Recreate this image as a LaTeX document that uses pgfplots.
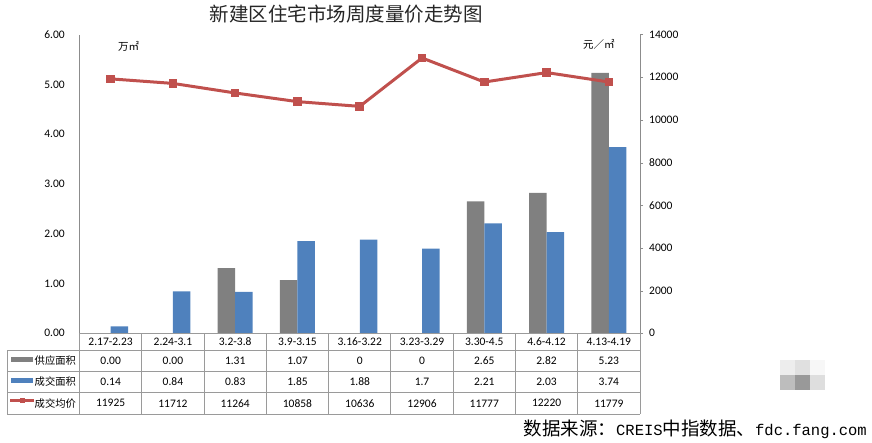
\documentclass[border=0pt]{standalone}
\usepackage{fontspec}
\setmainfont{Carlito}
\newfontfamily\cjk{Noto Sans CJK SC}
\newfontfamily\monof{Liberation Mono}
\usepackage{pgfplots}
\pgfplotsset{compat=1.18}
\definecolor{bgray}{HTML}{808080}
\definecolor{bblue}{HTML}{4F81BD}
\definecolor{lred}{HTML}{C0504D}
\definecolor{axgray}{HTML}{8C8C8C}
\definecolor{tgray}{HTML}{9A9A9A}
\begin{document}
\begin{tikzpicture}[x=1pt,y=1pt]
\path[use as bounding box] (0,0) rectangle (872,442);
% left axis: bars
\begin{axis}[at={(79.5pt,108.7pt)}, anchor=south west, scale only axis,
  width=560.5pt, height=298.7pt,
  xmin=-0.5, xmax=8.5, ymin=0, ymax=6,
  axis x line=none, axis y line*=left,
  axis line style={draw=axgray,-},
  xtick=\empty, ytick={0,1,2,3,4,5,6},
  major tick length=0pt,
  /pgf/number format/assume math mode=true,
  yticklabel={\pgfmathprintnumber[fixed,fixed zerofill,precision=2]{\tick}},
  yticklabel style={anchor=east, inner sep=0pt, xshift=-14.5pt, font=\fontsize{11.5}{13}\selectfont},
  ybar=0pt, bar width=17.5pt, clip=false]
\addplot[fill=bgray, draw=none] coordinates {(0,0) (1,0) (2,1.31) (3,1.07) (4,0) (5,0) (6,2.65) (7,2.82) (8,5.23)};
\addplot[fill=bblue, draw=none] coordinates {(0,0.14) (1,0.84) (2,0.83) (3,1.85) (4,1.88) (5,1.70) (6,2.21) (7,2.03) (8,3.74)};
\end{axis}
% right axis: price line
\begin{axis}[at={(79.5pt,108.7pt)}, anchor=south west, scale only axis,
  width=560.5pt, height=298.7pt,
  xmin=-0.5, xmax=8.5, ymin=0, ymax=14000,
  axis x line=none, axis y line*=right,
  axis line style={draw=axgray,-},
  xtick=\empty, ytick={0,2000,...,14000},
  scaled y ticks=false,
  tick align=outside, major tick length=3pt,
  ytick style={draw=axgray},
  /pgf/number format/assume math mode=true,
  /pgf/number format/1000 sep={},
  yticklabel style={anchor=west, inner sep=0pt, xshift=6pt, font=\fontsize{11.5}{13}\selectfont},
  clip=false]
\addplot[color=lred, line width=3pt, mark=square*, mark size=3.8pt, mark options={solid, line width=0pt}] coordinates {(0,11925) (1,11712) (2,11264) (3,10858) (4,10636) (5,12906) (6,11777) (7,12220) (8,11779)};
\end{axis}
% title and units
\node[font=\cjk\fontsize{19.5}{22}\selectfont, text=black!85] at (346,428) {新建区住宅市场周度量价走势图};
\node[anchor=west, font=\cjk\fontsize{10.5}{12}\selectfont, inner sep=0pt] at (118,396) {万㎡};
\node[anchor=west, font=\cjk\fontsize{10.5}{12}\selectfont, inner sep=0pt] at (583,398) {元／㎡};
% data table grid
\foreach \k in {0,...,9} {\draw[tgray, line width=0.8pt] ({79.5+62.2778*\k},108.7) -- ({79.5+62.2778*\k},28);}
\draw[tgray, line width=0.8pt] (79.5,108.7) -- (640,108.7);
\foreach \yy in {91.3,70.3,49.3,28} {\draw[tgray, line width=0.8pt] (7.3,\yy) -- (640,\yy);}
\draw[tgray, line width=0.8pt] (7.3,91.3) -- (7.3,28);
% table text
\begin{scope}[font=\fontsize{11.5}{13}\selectfont]
\foreach \lab [count=\i from 0] in {2.17-2.23,2.24-3.1,3.2-3.8,3.9-3.15,3.16-3.22,3.23-3.29,3.30-4.5,4.6-4.12,4.13-4.19}
  {\node at ({79.5+62.2778*(\i+0.5)},100) {\lab};}
\foreach \v [count=\i from 0] in {0.00,0.00,1.31,1.07,0,0,2.65,2.82,5.23}
  {\node at ({79.5+62.2778*(\i+0.5)},81) {\v};}
\foreach \v [count=\i from 0] in {0.14,0.84,0.83,1.85,1.88,1.7,2.21,2.03,3.74}
  {\node at ({79.5+62.2778*(\i+0.5)},60) {\v};}
\foreach \v [count=\i from 0] in {11925,11712,11264,10858,10636,12906,11777,12220,11779}
  {\node at ({79.5+62.2778*(\i+0.5)},38.7) {\v};}
\end{scope}
% legend in table
\fill[bgray] (11,79.7) rectangle (33,84.7);
\fill[bblue] (11,59.3) rectangle (33,64.3);
\draw[lred, line width=2.5pt] (10,41.3) -- (34,41.3);
\fill[lred] (19.5,38.8) rectangle (24.5,43.8);
\begin{scope}[font=\cjk\fontsize{10.3}{12}\selectfont]
\node[anchor=west, inner sep=0pt] at (34.5,81) {供应面积};
\node[anchor=west, inner sep=0pt] at (34.5,60) {成交面积};
\node[anchor=west, inner sep=0pt] at (34.5,38.7) {成交均价};
\end{scope}
% blurred watermark mosaic
\fill[black!7] (780,67) rectangle (795,82);
\fill[black!12] (795,67) rectangle (810,82);
\fill[black!3] (810,67) rectangle (825,82);
\fill[black!26] (780,52) rectangle (795,67);
\fill[black!40] (795,52) rectangle (810,67);
\fill[black!13] (810,52) rectangle (825,67);
% source
\node[anchor=east, inner sep=0pt] at (867,13) {\cjk\fontsize{18.5}{20}\selectfont 数据来源：{\monof\fontsize{15.5}{20}\selectfont CREIS}中指数据、{\monof\fontsize{15.5}{20}\selectfont fdc.fang.com}};
\end{tikzpicture}
\end{document}
